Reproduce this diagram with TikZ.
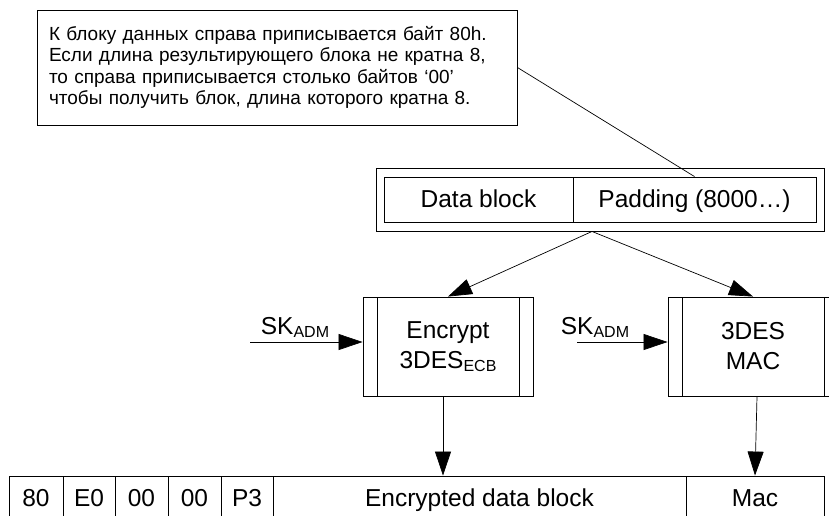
\documentclass[tikz,border=0pt]{standalone}
\usepackage{fontspec}
\setmainfont{Liberation Sans}
\usepackage{tikz}
\usetikzlibrary{arrows.meta}
\newcommand{\subtxt}[1]{\raisebox{-3pt}{\fontsize{16}{16}\selectfont #1}}
\tikzset{
	>={Triangle[length=24pt,width=16pt]},
	box/.style={draw=black, line width=0.9pt, inner sep=0pt,
		font=\fontsize{24.5}{30}\selectfont},
	cell/.style={box, minimum height=44, text height=17.5pt, text depth=0pt},
	field/.style={box, minimum height=45, text height=17.5pt, text depth=1pt},
	process/.style={box, minimum width=170, minimum height=99, align=center,
		path picture={
			\draw[line width=0.9pt] ([xshift=14]path picture bounding box.north west) -- ([xshift=14]path picture bounding box.south west);
			\draw[line width=0.9pt] ([xshift=-14]path picture bounding box.north east) -- ([xshift=-14]path picture bounding box.south east);
		}},
	note/.style={draw=black, line width=0.9pt, inner xsep=12pt, inner ysep=0pt,
		text width=456pt, minimum height=115, align=left,
		font=\fontsize{19}{21.5}\selectfont},
	keylabel/.style={inner sep=0pt, anchor=base, font=\fontsize{24.5}{30}\selectfont},
	link/.style={draw=black, line width=0.7pt},
}

\begin{document}
\begin{tikzpicture}[x=1pt, y=-1pt]
\useasboundingbox (0,0) rectangle (829,515);

\node[note] (note) at (277,67.5) {К блоку данных справа приписывается байт 80h.\\
Если длина результирующего блока не кратна 8,\\
то справа приписывается столько байтов ‘00’\\
чтобы получить блок, длина которого кратна 8.};

\node[box, minimum width=448, minimum height=63] (frame) at (600,199.5) {};
\node[field, minimum width=189] (data) at (478.5,199.5) {Data block};
\node[field, minimum width=243] (pad) at (694.5,199.5) {Padding (8000…)};

\draw[link] (note.east) -- (pad.north);

\node[process] (enc) at (448,346.5) {Encrypt\\3DES\subtxt{ECB}};
\node[process] (mac) at (753,346.5) {3DES\\MAC};

\draw[link, ->] ([xshift=-8]frame.south) -- (enc.north);
\draw[link, ->] ([xshift=-8]frame.south) -- (mac.north);

\coordinate (in1) at (250,342);
\node[keylabel] (sk1) at (295,334) {SK\subtxt{ADM}};
\draw[link, ->] (in1) -- (in1 -| enc.west);

\coordinate (in2) at (577,342);
\node[keylabel] (sk2) at (595,334) {SK\subtxt{ADM}};
\draw[link, ->] (in2) -- (in2 -| mac.west);

\node[cell, minimum width=54] (cla) at (36,498) {80};
\node[cell, minimum width=52] (ins) at (89,498) {E0};
\node[cell, minimum width=53] (p1) at (141.5,498) {00};
\node[cell, minimum width=53] (p2) at (194.5,498) {00};
\node[cell, minimum width=52] (p3) at (247,498) {P3};
\node[cell, minimum width=413] (encdata) at (479.5,498) {Encrypted data block};
\node[cell, minimum width=138] (macf) at (755,498) {Mac};

\draw[link, ->] ([xshift=-5]enc.south) -- ([xshift=-5]enc.south |- encdata.north);
\draw[link, ->] ([xshift=4]mac.south) -- (macf.north);
\end{tikzpicture}
\end{document}
